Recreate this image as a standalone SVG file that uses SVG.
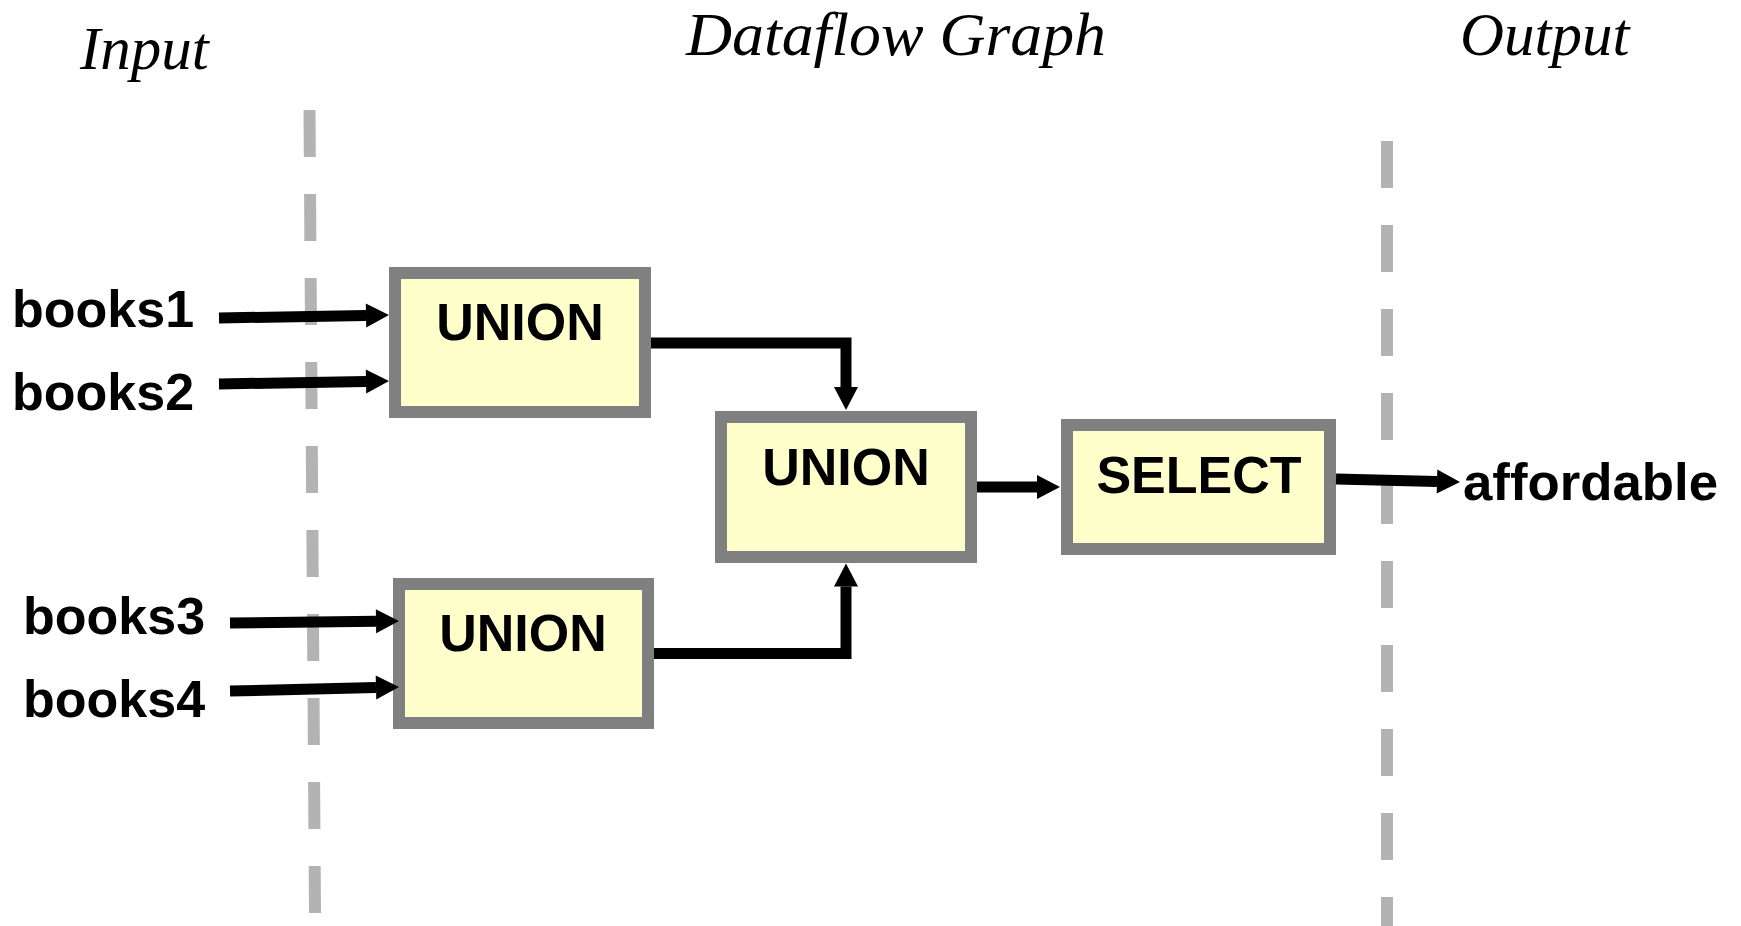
<svg xmlns="http://www.w3.org/2000/svg" width="1741" height="926" viewBox="0 0 1741 926">
  <style>
    .title { font-family: "Liberation Serif", "Times New Roman", serif; font-style: italic; font-size: 61px; fill: #000; }
    .label { font-family: "Liberation Sans", Arial, sans-serif; font-weight: bold; font-size: 52px; fill: #000; }
    .op { font-family: "Liberation Sans", Arial, sans-serif; font-weight: bold; font-size: 52px; fill: #000; text-anchor: middle; }
    .box { fill: #FFFFCC; stroke: #808080; stroke-width: 12; }
    .divider { stroke: #B3B3B3; stroke-width: 12; fill: none; stroke-dasharray: 47 37; }
    .flow { stroke: #000; stroke-width: 11; fill: none; stroke-linejoin: miter; marker-end: url(#head); }
  </style>
  <defs>
    <marker id="head" markerUnits="userSpaceOnUse" markerWidth="24" markerHeight="24" refX="0" refY="12" orient="auto" overflow="visible">
      <path d="M0,0 L23,12 L0,24 Z" fill="#000"/>
    </marker>
  </defs>

  <rect width="1741" height="926" fill="#fff"/>

  <!-- section titles -->
  <g id="titles">
    <text class="title" x="80" y="69">Input</text>
    <text class="title" x="686" y="55" textLength="420" lengthAdjust="spacingAndGlyphs">Dataflow Graph</text>
    <text class="title" x="1460" y="55">Output</text>
  </g>

  <!-- section dividers -->
  <g id="dividers">
    <line class="divider" x1="309.5" y1="110" x2="315" y2="913"/>
    <line class="divider" x1="1387" y1="141" x2="1387" y2="926"/>
  </g>

  <!-- input labels -->
  <g id="inputs">
    <text class="label" x="12" y="327">books1</text>
    <text class="label" x="12" y="410">books2</text>
    <text class="label" x="23" y="634">books3</text>
    <text class="label" x="23" y="717">books4</text>
  </g>

  <g id="union-top">
    <rect class="box" x="395" y="273" width="250" height="139"/>
    <text class="op" x="520" y="340">UNION</text>
  </g>

  <g id="union-bottom">
    <rect class="box" x="399" y="584" width="249" height="139"/>
    <text class="op" x="523" y="651">UNION</text>
  </g>

  <g id="union-merge">
    <rect class="box" x="721" y="417" width="250" height="140"/>
    <text class="op" x="846" y="485">UNION</text>
  </g>

  <g id="select">
    <rect class="box" x="1067" y="425" width="263" height="124"/>
    <text class="op" x="1199" y="493">SELECT</text>
  </g>

  <g id="output">
    <text class="label" x="1463" y="500" textLength="255" lengthAdjust="spacingAndGlyphs">affordable</text>
  </g>

  <!-- connectors -->
  <g id="connectors">
    <line class="flow" x1="219" y1="318" x2="366" y2="315.4"/>
    <line class="flow" x1="219" y1="384" x2="366" y2="381.4"/>
    <line class="flow" x1="230" y1="623" x2="376" y2="621.3"/>
    <line class="flow" x1="230" y1="691" x2="376" y2="687.5"/>
    <path class="flow" d="M651,343 H846 V387"/>
    <path class="flow" d="M654,653.5 H846 V586.5"/>
    <path class="flow" d="M977,487 H1037"/>
    <path class="flow" d="M1336,479 L1437,481.5"/>
  </g>
</svg>
